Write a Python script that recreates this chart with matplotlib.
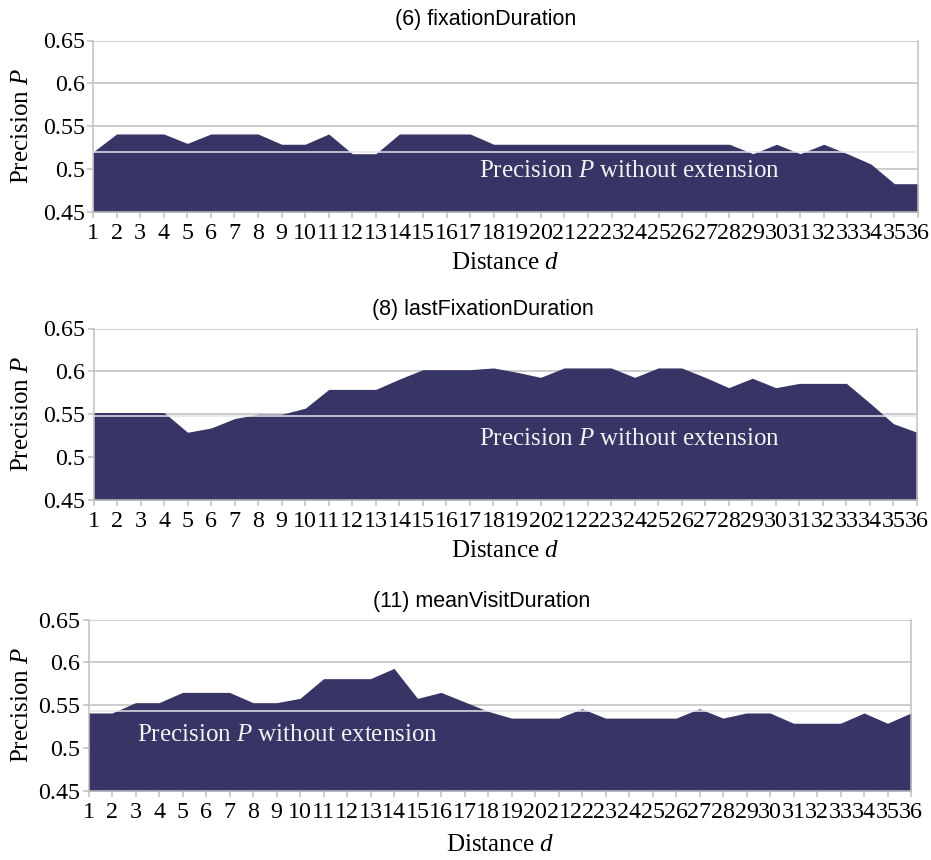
import matplotlib

matplotlib.use("Agg")
import matplotlib.pyplot as plt
import numpy as np


# distance d = 1..36
DISTANCES = list(range(1, 37))

TITLES = [
    "(6) fixationDuration",
    "(8) lastFixationDuration",
    "(11) meanVisitDuration",
]

# precision P for every distance
FIXATION_DURATION = [
    0.520, 0.541, 0.541, 0.541, 0.530, 0.541, 0.541, 0.541, 0.529, 0.529,
    0.541, 0.518, 0.518, 0.541, 0.541, 0.541, 0.541, 0.529, 0.529, 0.529,
    0.529, 0.529, 0.529, 0.529, 0.529, 0.529, 0.529, 0.529, 0.518, 0.529,
    0.518, 0.529, 0.518, 0.506, 0.483, 0.483,
]
LAST_FIXATION_DURATION = [
    0.552, 0.552, 0.552, 0.552, 0.529, 0.534, 0.545, 0.550, 0.550, 0.557,
    0.579, 0.579, 0.579, 0.591, 0.602, 0.602, 0.602, 0.604, 0.599, 0.593,
    0.604, 0.604, 0.604, 0.593, 0.604, 0.604, 0.593, 0.581, 0.592, 0.581,
    0.586, 0.586, 0.586, 0.563, 0.539, 0.529,
]
MEAN_VISIT_DURATION = [
    0.541, 0.541, 0.553, 0.553, 0.565, 0.565, 0.565, 0.553, 0.553, 0.558,
    0.581, 0.581, 0.581, 0.593, 0.558, 0.565, 0.554, 0.543, 0.535, 0.535,
    0.535, 0.546, 0.535, 0.535, 0.535, 0.535, 0.546, 0.535, 0.541, 0.541,
    0.529, 0.529, 0.529, 0.541, 0.529, 0.541,
]

# precision without extension (horizontal reference line)
BASELINE_P = [0.520, 0.548, 0.543]

Y_TICKS = [0.45, 0.5, 0.55, 0.6, 0.65]
Y_TICK_LABELS = ["0.45", "0.5", "0.55", "0.6", "0.65"]

FILL_COLOR = "#363565"
GRID_COLOR = "#c0c0c0"
SERIF = "Liberation Serif"
SANS = "Liberation Sans"

plt.rcParams["mathtext.fontset"] = "custom"
plt.rcParams["mathtext.rm"] = SERIF
plt.rcParams["mathtext.it"] = SERIF + ":italic"

W, H = 931, 860

# axes boxes in pixels: left, right, top, bottom
AXES_PX = [
    (93, 918, 40.5, 212),
    (93.5, 917, 328.5, 500),
    (88.5, 911, 619.5, 791),
]
TITLE_PX = [(486, 19), (483, 310), (482, 602)]
NOTE_PX = [(629, 171), (629, 439), (287, 735)]
XLABEL_PX = [(505, 263), (505, 551), (500, 845)]


def draw_panel(fig, idx, values, baseline):
    left, right, top, bottom = AXES_PX[idx]
    ax = fig.add_axes(
        [left / W, 1 - bottom / H, (right - left) / W, (bottom - top) / H]
    )

    ax.fill_between(DISTANCES, 0.45, values, color=FILL_COLOR, lw=0, zorder=2)
    ax.axhline(baseline, color="#e4e4ec", lw=1.1, zorder=3)

    ax.set_xlim(DISTANCES[0], DISTANCES[-1])
    ax.set_ylim(0.45, 0.65)
    ax.set_xticks(DISTANCES)
    ax.set_xticklabels([str(d) for d in DISTANCES], fontfamily=SERIF, fontsize=17.3)
    ax.set_yticks(Y_TICKS)
    ax.set_yticklabels(Y_TICK_LABELS, fontfamily=SERIF, fontsize=17.3)

    ax.yaxis.grid(True, color=GRID_COLOR, lw=1.1, zorder=1)
    ax.set_axisbelow(True)
    for side in ["left", "bottom", "right"]:
        ax.spines[side].set_color(GRID_COLOR)
        ax.spines[side].set_linewidth(1.1)
    ax.spines["top"].set_visible(False)
    ax.tick_params(axis="both", color=GRID_COLOR, length=4, width=1.1)
    ax.tick_params(axis="x", pad=4)
    ax.tick_params(axis="y", pad=2)

    fig.text(
        TITLE_PX[idx][0] / W, 1 - TITLE_PX[idx][1] / H, TITLES[idx],
        fontfamily=SANS, fontsize=15.5, ha="center", va="center",
    )
    fig.text(
        NOTE_PX[idx][0] / W, 1 - NOTE_PX[idx][1] / H,
        "Precision $P$ without extension",
        fontfamily=SERIF, fontsize=18, color="#f2f2f2", ha="center", va="center",
    )
    fig.text(
        XLABEL_PX[idx][0] / W, 1 - XLABEL_PX[idx][1] / H, "Distance $d$",
        fontfamily=SERIF, fontsize=18, ha="center", va="center",
    )
    fig.text(
        22 / W, 1 - (top + bottom) / 2 / H, "Precision $P$",
        fontfamily=SERIF, fontsize=18, rotation=90, ha="center", va="center",
    )
    return ax


def main():
    fig = plt.figure(figsize=(W / 100, H / 100), dpi=100)
    series = [FIXATION_DURATION, LAST_FIXATION_DURATION, MEAN_VISIT_DURATION]
    for idx, values in enumerate(series):
        draw_panel(fig, idx, np.array(values), BASELINE_P[idx])
    fig.savefig("out.png", dpi=100)
    plt.close(fig)


if __name__ == "__main__":
    main()
